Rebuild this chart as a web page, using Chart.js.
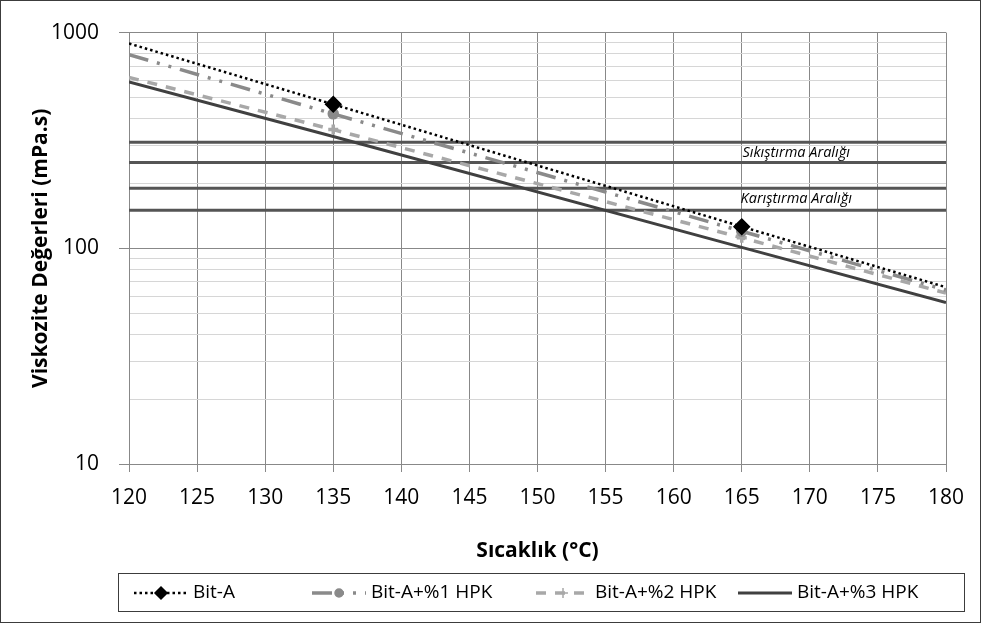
<!DOCTYPE html>
<html>
<head>
<meta charset="utf-8">
<script src="https://cdn.jsdelivr.net/npm/chart.js@4.4.1/dist/chart.umd.min.js"></script>
<style>
  html, body { margin: 0; padding: 0; background: #fff; }
</style>
</head>
<body>
<canvas id="viscosity" width="981" height="623"></canvas>
<script>
(function () {
    "use strict";

    var temps = [120, 135, 165, 180];
    var measuredTemps = [135, 165];
    var bitA  = [890, 465, 126, 66];
    var bitA1 = [790, 420, 120, 64];
    var bitA2 = [620, 355, 112, 62];
    var bitA3 = [590, 330, 101, 56];
    var seriesNames = ['Bit-A', 'Bit-A+%1 HPK', 'Bit-A+%2 HPK', 'Bit-A+%3 HPK'];

    /** Compaction and mixing viscosity bands (mPa.s) */
    var compactionRange = [250, 310];
    var mixingRange = [150, 190];
    var rangeNames = ['Sıkıştırma Aralığı', 'Karıştırma Aralığı'];
    var rangeLabelTemp = 169;

    /** Axes */
    var xMin = 120, xMax = 180, xStep = 5;
    var yTickLabels = [10, 100, 1000];

    var FONT = "'Open Sans', 'DejaVu Sans', sans-serif";

    function points(values) {
        return temps.map(function (t, i) { return { x: t, y: values[i] }; });
    }

    function markerRadius(r) {
        return function (ctx) {
            var t = temps[ctx.dataIndex];
            return measuredTemps.indexOf(t) >= 0 ? r : 0;
        };
    }

    function bandLine(v) {
        return {
            label: '',
            isRange: true,
            data: [{ x: temps[0], y: v }, { x: temps[temps.length - 1], y: v }],
            borderColor: '#555',
            borderWidth: 3,
            pointRadius: 0,
            order: 10
        };
    }

    var series = [
        {
            label: seriesNames[0], data: points(bitA),
            borderColor: '#000', backgroundColor: '#000',
            borderWidth: 2.5, borderDash: [2.5, 3],
            pointStyle: 'rectRot', pointRadius: markerRadius(7), legendRadius: 6,
            order: 1
        },
        {
            label: seriesNames[1], data: points(bitA1),
            borderColor: '#8a8a8a', backgroundColor: '#8a8a8a',
            borderWidth: 3.5, borderDash: [20, 9, 3, 9, 3, 9],
            pointStyle: 'circle', pointRadius: markerRadius(4), legendRadius: 4,
            order: 2
        },
        {
            label: seriesNames[2], data: points(bitA2),
            borderColor: '#a8a8a8', backgroundColor: '#a8a8a8',
            borderWidth: 3.5, borderDash: [10, 9],
            pointStyle: 'cross', pointRadius: markerRadius(5), legendRadius: 5,
            order: 3
        },
        {
            label: seriesNames[3], data: points(bitA3),
            borderColor: '#404040', backgroundColor: '#404040',
            borderWidth: 3, borderDash: [],
            pointStyle: false, pointRadius: 0, legendRadius: 0,
            order: 4
        }
    ];

    var bands = compactionRange.concat(mixingRange).map(bandLine);

    /** Y grid: 1..9 x every decade */
    var yGrid = [];
    for (var d = 10; d < 1000; d *= 10) {
        for (var m = 1; m < 10; m++) yGrid.push(d * m);
    }
    yGrid.push(1000);

    /** White background and outer frame */
    var frame = {
        id: 'frame',
        beforeDraw: function (chart) {
            var c = chart.ctx;
            c.save();
            c.fillStyle = '#fff';
            c.fillRect(0, 0, chart.width, chart.height);
            c.restore();
        },
        afterDraw: function (chart) {
            var c = chart.ctx;
            c.save();
            c.strokeStyle = '#3c3c3c';
            c.lineWidth = 1;
            c.strokeRect(0.5, 0.5, chart.width - 1, chart.height - 1);
            c.restore();
        }
    };

    /** Band captions */
    var bandLabels = {
        id: 'bandLabels',
        afterDatasetsDraw: function (chart) {
            var c = chart.ctx, xs = chart.scales.x, ys = chart.scales.y;
            var x = xs.getPixelForValue(rangeLabelTemp);
            c.save();
            c.font = 'italic 14.5px ' + FONT;
            c.fillStyle = '#000';
            c.textAlign = 'center';
            c.textBaseline = 'middle';
            [compactionRange, mixingRange].forEach(function (r, i) {
                var y = ys.getPixelForValue(Math.sqrt(r[0] * r[1]));
                c.fillText(rangeNames[i], x, y);
            });
            c.restore();
        }
    };

    /** Boxed legend with line samples */
    var boxLegend = {
        id: 'boxLegend',
        afterDraw: function (chart) {
            var c = chart.ctx;
            var box = { x: 118, y: 573, w: 846, h: 38 };
            var textStarts = [193, 371, 595, 797];
            var sampleW = 54, textGap = 5;
            c.save();
            c.strokeStyle = '#3c3c3c';
            c.lineWidth = 1;
            c.strokeRect(box.x + 0.5, box.y + 0.5, box.w, box.h);
            c.font = '19px ' + FONT;
            c.textBaseline = 'middle';
            c.fillStyle = '#000';
            var y = box.y + box.h / 2 + 1;
            var i = 0;
            chart.data.datasets.forEach(function (ds) {
                if (ds.isRange) return;
                var tx = textStarts[i++];
                var x = tx - textGap - sampleW;
                c.save();
                c.strokeStyle = ds.borderColor;
                c.lineWidth = ds.borderWidth;
                c.setLineDash(ds.borderDash || []);
                c.beginPath();
                c.moveTo(x, y);
                c.lineTo(x + sampleW, y);
                c.stroke();
                c.setLineDash([]);
                if (ds.pointStyle) {
                    c.fillStyle = ds.backgroundColor;
                    c.strokeStyle = ds.borderColor;
                    c.lineWidth = 1.5;
                    Chart.helpers.drawPoint(c, { pointStyle: ds.pointStyle, radius: ds.legendRadius, rotation: 0, borderWidth: 1.5 }, x + sampleW / 2, y);
                }
                c.restore();
                c.fillText(ds.label, tx, y);
            });
            c.restore();
        }
    };

    var ctx = document.getElementById('viscosity').getContext('2d');
    var viscosityChart = new Chart(ctx, {
        type: 'line',
        data: { datasets: series.concat(bands) },
        plugins: [frame, bandLabels, boxLegend],
        options: {
            responsive: false,
            animation: false,
            devicePixelRatio: 1,
            layout: { padding: { top: 31, right: 35, bottom: 59, left: 0 } },
            elements: { line: { tension: 0, fill: false } },
            plugins: { legend: { display: false }, tooltip: { enabled: false } },
            scales: {
                x: {
                    type: 'linear', min: xMin, max: xMax,
                    afterFit: function (s) { s.height = 100; },
                    ticks: { stepSize: xStep, color: '#000', font: { family: FONT, size: 21 }, padding: 13, maxRotation: 0 },
                    grid: { color: '#888', lineWidth: 1, tickLength: 8, tickColor: '#888' },
                    border: { color: '#888' },
                    title: {
                        display: true, text: 'Sıcaklık (°C)', color: '#000',
                        font: { family: FONT, size: 21, weight: 'bold' },
                        padding: { top: 0, bottom: 0 }
                    }
                },
                y: {
                    type: 'logarithmic', min: 10, max: 1000,
                    afterFit: function (s) { s.width = 129; },
                    afterBuildTicks: function (s) {
                        s.ticks = yGrid.map(function (v) {
                            return { value: v, major: yTickLabels.indexOf(v) >= 0 };
                        });
                    },
                    ticks: {
                        autoSkip: false, color: '#000', padding: 20,
                        font: { family: FONT, size: 21 },
                        callback: function (v) { return yTickLabels.indexOf(v) >= 0 ? String(v) : ''; }
                    },
                    grid: {
                        lineWidth: 1, tickLength: 10,
                        color: function (c) { return c.tick && yTickLabels.indexOf(c.tick.value) >= 0 ? '#888' : '#d6d6d6'; },
                        tickColor: function (c) { return c.tick && yTickLabels.indexOf(c.tick.value) >= 0 ? '#888' : 'rgba(0,0,0,0)'; }
                    },
                    border: { color: '#888' },
                    title: {
                        display: true, text: 'Viskozite Değerleri (mPa.s)', color: '#000',
                        font: { family: FONT, size: 21, weight: 'bold' },
                        padding: { top: 28, bottom: 0 }
                    }
                }
            }
        }
    });
})();
</script>
</body>
</html>
